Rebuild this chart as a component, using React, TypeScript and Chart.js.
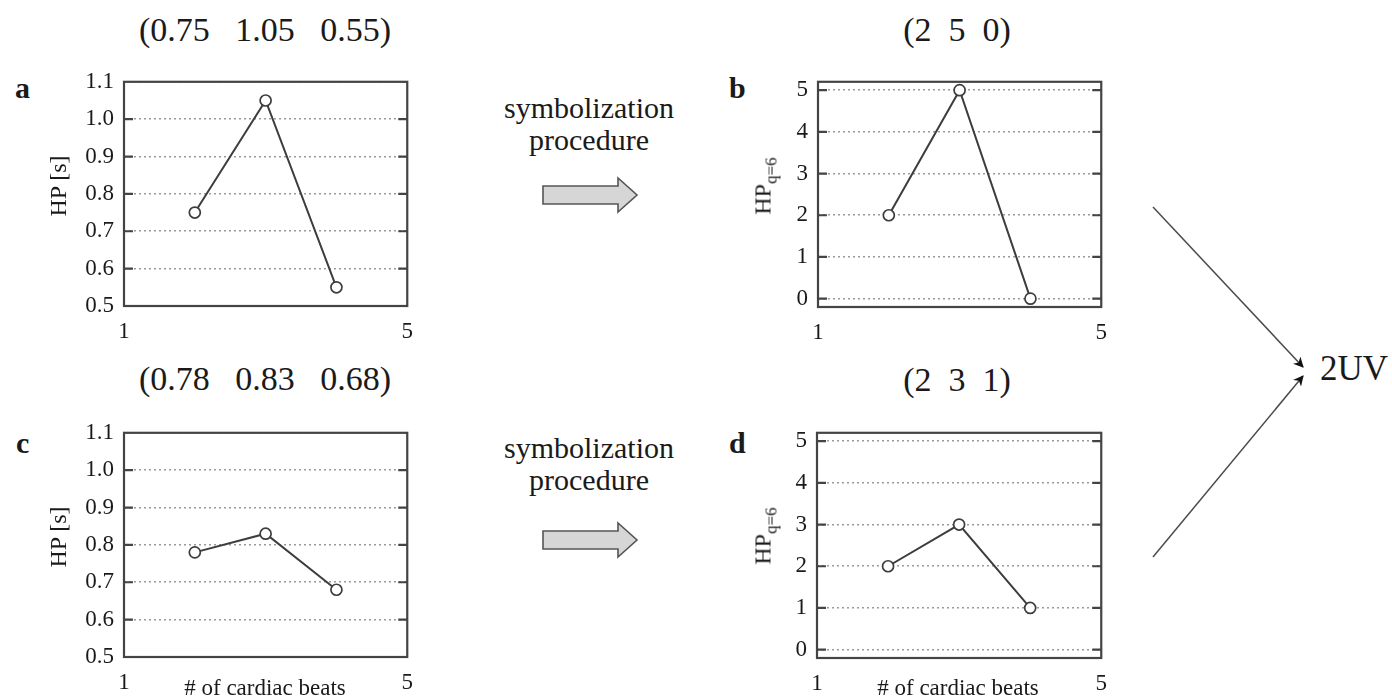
import React, { useEffect, useRef } from "react";
import { Chart, registerables } from "chart.js";

Chart.register(...registerables);

// Beat index of each heart period and the x-axis end ticks
const beats = [2, 3, 4];
const beatTicks = [1, 5];

// Heart periods (s) of the two example patterns
const hpPatternA = [0.75, 1.05, 0.55];
const hpPatternC = [0.78, 0.83, 0.68];

// Symbols obtained after uniform quantization on 6 levels
const symbolsB = [2, 5, 0];
const symbolsD = [2, 3, 1];

// Y tick values
const hpTicks = [0.5, 0.6, 0.7, 0.8, 0.9, 1.0, 1.1];
const symbolTicks = [0, 1, 2, 3, 4, 5];

const SERIF = '"Liberation Serif", "Times New Roman", Times, serif';
const INK = "#1a1a1a";
const LINE = "#3d3d3d";

const PAD_L = 70;
const PAD_T = 12;
const PAD_R = 16;
const AX_H = 44;

type Rect = { left: number; top: number; right: number; bottom: number };

// Box frame plus short inward tick marks on both vertical edges
const framePlugin = {
  id: "frameTicks",
  afterDraw(chart: any) {
    const { ctx, chartArea: a, scales } = chart;
    const y = scales.y;
    ctx.save();
    ctx.strokeStyle = "#444444";
    ctx.lineWidth = 2.2;
    ctx.setLineDash([]);
    y.ticks.forEach((t: any) => {
      const py = y.getPixelForValue(t.value);
      if (py <= a.top + 1 || py >= a.bottom - 1) return;
      ctx.beginPath();
      ctx.moveTo(a.left, py);
      ctx.lineTo(a.left + 9, py);
      ctx.moveTo(a.right - 9, py);
      ctx.lineTo(a.right, py);
      ctx.stroke();
    });
    ctx.strokeRect(a.left, a.top, a.right - a.left, a.bottom - a.top);
    ctx.restore();
  },
};

type MiniProps = {
  rect: Rect;
  values: number[];
  yMin: number;
  yMax: number;
  yTicks: number[];
  decimals: number;
};

function MiniChart({ rect, values, yMin, yMax, yTicks, decimals }: MiniProps) {
  const ref = useRef<HTMLCanvasElement | null>(null);
  const w = rect.right - rect.left + PAD_L + PAD_R;
  const h = rect.bottom - rect.top + PAD_T + AX_H;

  useEffect(() => {
    if (!ref.current) return;
    const tickFont = { family: SERIF, size: 23 };
    const chart = new Chart(ref.current, {
      type: "line",
      data: {
        datasets: [
          {
            data: beats.map((x, i) => ({ x, y: values[i] })),
            borderColor: LINE,
            borderWidth: 2,
            pointRadius: 5.5,
            pointBorderWidth: 1.7,
            pointBackgroundColor: "#ffffff",
            pointBorderColor: LINE,
            tension: 0,
            clip: false,
          } as any,
        ],
      },
      options: {
        animation: false,
        responsive: false,
        events: [],
        layout: { padding: { left: 0, top: PAD_T, right: PAD_R, bottom: 0 } },
        plugins: { legend: { display: false }, tooltip: { enabled: false } },
        scales: {
          x: {
            type: "linear",
            min: beatTicks[0],
            max: beatTicks[beatTicks.length - 1],
            afterBuildTicks: (s: any) => {
              s.ticks = beatTicks.map((v) => ({ value: v }));
            },
            afterFit: (s: any) => {
              s.height = AX_H;
            },
            grid: { display: false, drawTicks: false },
            border: { display: false },
            ticks: {
              font: tickFont,
              color: INK,
              padding: 12,
              maxRotation: 0,
              autoSkip: false,
              callback: (v: any) => String(v),
            },
          },
          y: {
            type: "linear",
            min: yMin,
            max: yMax,
            afterBuildTicks: (s: any) => {
              s.ticks = yTicks.map((v) => ({ value: v }));
            },
            afterFit: (s: any) => {
              s.width = PAD_L;
            },
            grid: { color: "#9a9a9a", lineWidth: 1.6, drawTicks: false },
            border: { display: false, dash: [2, 3] },
            ticks: {
              font: tickFont,
              color: INK,
              padding: 10,
              autoSkip: false,
              callback: (v: any) => Number(v).toFixed(decimals),
            },
          },
        },
      } as any,
      plugins: [framePlugin],
    });
    return () => chart.destroy();
  }, []);

  return (
    <canvas
      ref={ref}
      width={w}
      height={h}
      style={{
        position: "absolute",
        left: rect.left - PAD_L,
        top: rect.top - PAD_T,
        width: w,
        height: h,
      }}
    />
  );
}

type TextProps = {
  x: number;
  base: number;
  size: number;
  anchor?: "start" | "middle";
  bold?: boolean;
  children: React.ReactNode;
};

// Text placed by its baseline (line-height equal to the font size)
function Txt({ x, base, size, anchor = "middle", bold, children }: TextProps) {
  return (
    <div
      style={{
        position: "absolute",
        left: x,
        top: base - 0.8375 * size,
        fontFamily: SERIF,
        fontSize: size,
        lineHeight: `${size}px`,
        fontWeight: bold ? 700 : 400,
        color: INK,
        whiteSpace: "pre",
        transform: anchor === "middle" ? "translateX(-50%)" : undefined,
      }}
    >
      {children}
    </div>
  );
}

function YTitle({ cx, cy, children }: { cx: number; cy: number; children: React.ReactNode }) {
  return (
    <div
      style={{
        position: "absolute",
        left: cx,
        top: cy,
        fontFamily: SERIF,
        fontSize: 24,
        lineHeight: "26px",
        color: INK,
        whiteSpace: "pre",
        transform: "translate(-50%, -50%) rotate(-90deg)",
      }}
    >
      {children}
    </div>
  );
}

const fmt = (vals: number[], d: number) => "(" + vals.map((v) => v.toFixed(d)).join("   ") + ")";
const fmtSym = (vals: number[]) => "(" + vals.join("  ") + ")";

function BlockArrow({ y }: { y: number }) {
  const pts = [
    [543, y - 9],
    [618, y - 9],
    [618, y - 17],
    [637, y],
    [618, y + 17],
    [618, y + 9],
    [543, y + 9],
  ]
    .map((p) => p.join(","))
    .join(" ");
  return <polygon points={pts} fill="#d6d6d6" stroke="#555555" strokeWidth={1.6} />;
}

const hpRectA: Rect = { left: 124, top: 70, right: 409, bottom: 306 };
const symRectB: Rect = { left: 818, top: 70, right: 1103, bottom: 307 };
const hpRectC: Rect = { left: 124, top: 421, right: 409, bottom: 657 };
const symRectD: Rect = { left: 817, top: 421, right: 1103, bottom: 658 };

export default function App() {
  const hpSub = (
    <span>
      HP<sub style={{ fontSize: 17, verticalAlign: "-6px" }}>q=6</sub>
    </span>
  );
  return (
    <div
      style={{
        position: "fixed",
        left: 0,
        top: 0,
        width: 1392,
        height: 698,
        background: "#ffffff",
        overflow: "hidden",
      }}
    >
      <MiniChart rect={hpRectA} values={hpPatternA} yMin={0.5} yMax={1.1} yTicks={hpTicks} decimals={1} />
      <MiniChart rect={symRectB} values={symbolsB} yMin={-0.2} yMax={5.2} yTicks={symbolTicks} decimals={0} />
      <MiniChart rect={hpRectC} values={hpPatternC} yMin={0.5} yMax={1.1} yTicks={hpTicks} decimals={1} />
      <MiniChart rect={symRectD} values={symbolsD} yMin={-0.2} yMax={5.2} yTicks={symbolTicks} decimals={0} />

      <Txt x={265} base={41} size={34}>{fmt(hpPatternA, 2)}</Txt>
      <Txt x={957} base={41} size={34}>{fmtSym(symbolsB)}</Txt>
      <Txt x={265} base={390} size={34}>{fmt(hpPatternC, 2)}</Txt>
      <Txt x={957} base={391} size={34}>{fmtSym(symbolsD)}</Txt>

      <Txt x={15} base={98} size={30} anchor="start" bold>a</Txt>
      <Txt x={729} base={98} size={30} anchor="start" bold>b</Txt>
      <Txt x={16} base={453} size={30} anchor="start" bold>c</Txt>
      <Txt x={729} base={453} size={30} anchor="start" bold>d</Txt>

      <YTitle cx={58} cy={186}>HP [s]</YTitle>
      <YTitle cx={58} cy={537}>HP [s]</YTitle>
      <YTitle cx={767} cy={186}>{hpSub}</YTitle>
      <YTitle cx={767} cy={536}>{hpSub}</YTitle>

      <Txt x={265} base={695} size={23}># of cardiac beats</Txt>
      <Txt x={958} base={695} size={23}># of cardiac beats</Txt>

      <Txt x={589} base={118} size={30}>symbolization</Txt>
      <Txt x={589} base={150} size={30}>procedure</Txt>
      <Txt x={589} base={458} size={30}>symbolization</Txt>
      <Txt x={589} base={490} size={30}>procedure</Txt>

      <Txt x={1320} base={380} size={35} anchor="start">2UV</Txt>

      <svg
        width={1392}
        height={698}
        style={{ position: "absolute", left: 0, top: 0, pointerEvents: "none" }}
      >
        <defs>
          <marker id="tip" viewBox="0 0 10 10" refX="9" refY="5" markerWidth="7" markerHeight="7" orient="auto">
            <path d="M0,0 L10,5 L0,10 L3,5 z" fill="#111" />
          </marker>
        </defs>
        <BlockArrow y={195} />
        <BlockArrow y={540} />
        <line x1={1153} y1={207} x2={1303} y2={367} stroke="#4a4a4a" strokeWidth={1.5} markerEnd="url(#tip)" />
        <line x1={1153} y1={557} x2={1303} y2={376} stroke="#4a4a4a" strokeWidth={1.5} markerEnd="url(#tip)" />
      </svg>
    </div>
  );
}
